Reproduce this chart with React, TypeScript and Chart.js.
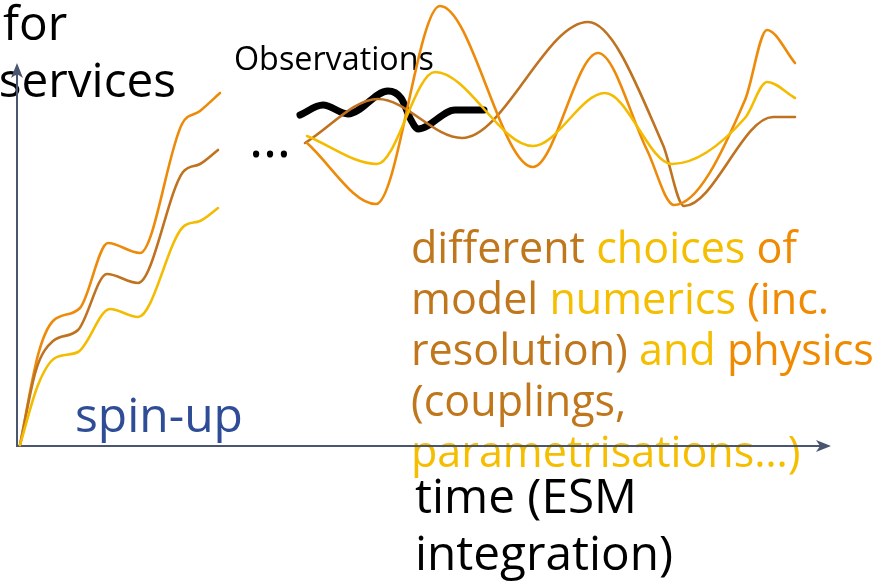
import { useEffect, useRef } from "react";
import { Chart, registerables } from "chart.js";

Chart.register(...registerables);

const W = 876;
const H = 581;
const FONT = '"Open Sans", "Noto Sans", sans-serif';

// curve colours
const ORANGE = "#EE8A0A";
const BROWN = "#BF7320";
const YELLOW = "#F4BC00";
const AXIS = "#4A5670";

// spin-up phase (x, y in diagram units, y grows downward)
const spinOrange: number[][] = [
  [20, 445], [38, 355], [53, 321], [80, 308], [108, 243], [140, 253],
  [182, 124], [200, 111], [220, 93],
];
const spinBrown: number[][] = [
  [20, 445], [36, 370], [53, 341], [78, 330], [107, 274], [138, 283],
  [183, 172], [200, 164], [218, 150],
];
const spinYellow: number[][] = [
  [20, 445], [38, 385], [55, 358], [78, 352], [110, 309], [138, 317],
  [183, 227], [200, 221], [218, 208],
];

// after "..." : observations and three model configurations
const observations: number[][] = [
  [300, 115], [323, 105], [348, 114], [388, 91], [401, 98], [411, 120],
  [418, 129], [455, 110], [484, 110],
];
const runBrown: number[][] = [
  [305, 143], [378, 99], [462, 138], [588, 22], [663, 145], [684, 206],
  [773, 117], [795, 117],
];
const runOrange: number[][] = [
  [307, 143], [376, 204], [440, 6], [533, 167], [598, 53], [647, 150],
  [674, 205], [745, 100], [767, 30], [795, 63],
];
const runYellow: number[][] = [
  [307, 136], [377, 164], [435, 72], [533, 146], [605, 93], [672, 164],
  [745, 118], [767, 82], [795, 98],
];

// texts
const BT = "#C0761B";
const YT = "#F5BE00";
const OT = "#F08A00";
const blockLines: [string, string][][] = [
  [["different ", BT], ["choices ", YT], ["of", OT]],
  [["model ", BT], ["numerics ", YT], ["(inc.", OT]],
  [["resolution) ", BT], ["and ", YT], ["physics", OT]],
  [["(couplings,", BT]],
  [["parametrisations…)", YT]],
];

function fitSize(ctx: CanvasRenderingContext2D, text: string, width: number) {
  ctx.font = `100px ${FONT}`;
  const w = ctx.measureText(text).width;
  return (100 * width) / w;
}

function arrowHead(ctx: CanvasRenderingContext2D, tx: number, ty: number, dir: "up" | "right") {
  ctx.beginPath();
  if (dir === "right") {
    ctx.moveTo(tx, ty);
    ctx.lineTo(tx - 15, ty - 6);
    ctx.lineTo(tx - 11, ty);
    ctx.lineTo(tx - 15, ty + 6);
  } else {
    ctx.moveTo(tx, ty);
    ctx.lineTo(tx - 6, ty + 15);
    ctx.lineTo(tx, ty + 11);
    ctx.lineTo(tx + 6, ty + 15);
  }
  ctx.closePath();
  ctx.fill();
}

const decor = {
  id: "decor",
  beforeDatasetsDraw(chart: any) {
    const ctx: CanvasRenderingContext2D = chart.ctx;
    const xs = chart.scales.x;
    const ys = chart.scales.y;
    const px = (v: number) => xs.getPixelForValue(v);
    const py = (v: number) => ys.getPixelForValue(v);
    ctx.save();
    ctx.textBaseline = "alphabetic";
    ctx.textAlign = "left";

    // black captions
    const big = fitSize(ctx, "time (ESM", 222);
    ctx.font = `${big}px ${FONT}`;
    ctx.fillStyle = "#000";
    ctx.fillText("for", px(3), py(40));
    ctx.textAlign = "right";
    ctx.fillText("services", px(176), py(97));
    ctx.textAlign = "left";
    ctx.fillText("time (ESM", px(415), py(513));
    ctx.fillText("integration)", px(415), py(570));

    const obs = fitSize(ctx, "Observations", 200);
    ctx.font = `${obs}px ${FONT}`;
    ctx.fillText("Observations", px(234), py(70));
    const dots = fitSize(ctx, "…", 42);
    ctx.font = `${dots}px ${FONT}`;
    ctx.fillText("…", px(249), py(157));

    const spin = fitSize(ctx, "spin-up", 168);
    ctx.font = `${spin}px ${FONT}`;
    ctx.fillStyle = "#2F4D96";
    ctx.fillText("spin-up", px(75), py(432));

    const bs = fitSize(ctx, "different choices of", 386);
    ctx.font = `${bs}px ${FONT}`;
    blockLines.forEach((segs, i) => {
      let x = px(411);
      const y = py(263 + i * 51);
      segs.forEach(([t, c]) => {
        ctx.fillStyle = c;
        ctx.fillText(t, x, y);
        x += ctx.measureText(t).width;
      });
    });

    // axes
    ctx.strokeStyle = AXIS;
    ctx.fillStyle = AXIS;
    ctx.lineWidth = 2;
    ctx.beginPath();
    ctx.moveTo(px(17), py(446));
    ctx.lineTo(px(17), py(72));
    ctx.moveTo(px(16), py(446));
    ctx.lineTo(px(822), py(446));
    ctx.stroke();
    arrowHead(ctx, px(17), py(63), "up");
    arrowHead(ctx, px(831), py(446), "right");
    ctx.restore();
  },
};

function ds(pts: number[][], color: string, width: number) {
  return {
    data: pts.map(([x, y]) => ({ x, y })),
    borderColor: color,
    borderWidth: width,
    pointRadius: 0,
    fill: false,
    cubicInterpolationMode: "monotone" as const,
    borderCapStyle: "round" as const,
    borderJoinStyle: "round" as const,
  };
}

export default function App() {
  const ref = useRef<HTMLCanvasElement | null>(null);
  useEffect(() => {
    if (!ref.current) return;
    const chart = new Chart(ref.current, {
      type: "line",
      data: {
        datasets: [
          ds(spinYellow, YELLOW, 2.6),
          ds(spinBrown, BROWN, 2.6),
          ds(spinOrange, ORANGE, 2.6),
          ds(runYellow, YELLOW, 2.6),
          ds(runOrange, ORANGE, 2.6),
          ds(runBrown, BROWN, 2.6),
          ds(observations, "#000000", 7),
        ] as any,
      },
      options: {
        responsive: false,
        animation: false,
        events: [],
        layout: { padding: 0 },
        plugins: { legend: { display: false }, tooltip: { enabled: false } },
        scales: {
          x: { type: "linear", min: 0, max: W, display: false },
          y: { type: "linear", min: 0, max: H, reverse: true, display: false },
        },
      },
      plugins: [decor],
    });
    return () => chart.destroy();
  }, []);
  return (
    <div style={{ position: "absolute", left: 0, top: 0, width: W, height: H, background: "#fff" }}>
      <canvas ref={ref} width={W} height={H} />
    </div>
  );
}
